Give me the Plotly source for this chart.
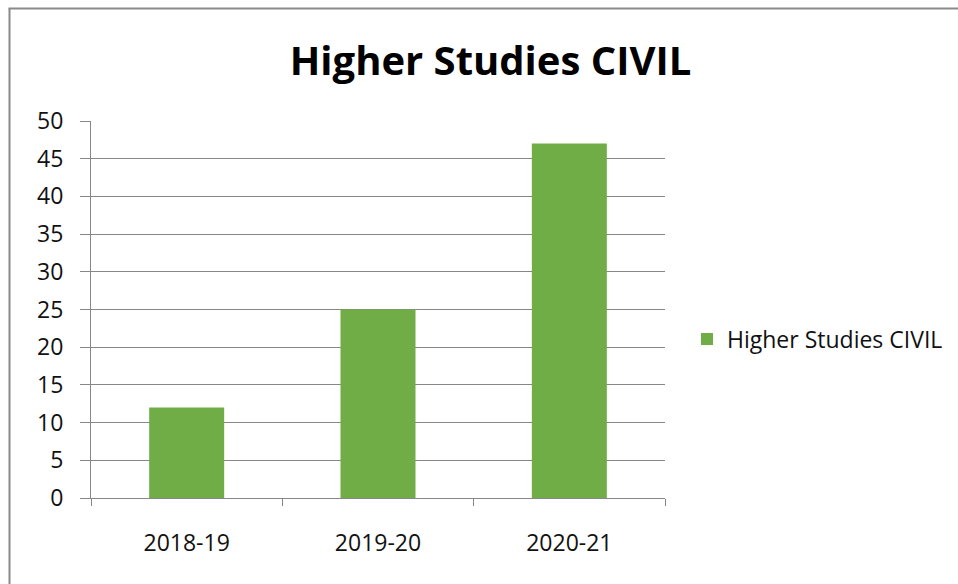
import plotly.graph_objects as go

categories = ["2018-19", "2019-20", "2020-21"]
values = [12, 25, 47]
series_name = "Higher Studies CIVIL"
chart_title = "Higher Studies CIVIL"
y_ticks = [0, 5, 10, 15, 20, 25, 30, 35, 40, 45, 50]

W, H = 958, 584
L, R, T, B = 91, 665, 121, 498

GREEN = "#70AD47"
GRID = "#878787"
FONT = "Open Sans"

fig = go.Figure()
fig.add_trace(go.Bar(
    x=categories, y=values, name=series_name,
    marker=dict(color=GREEN, line=dict(width=0)),
    showlegend=True,
))

pw, ph = R - L, B - T

def px_x(p):
    return (p - L) / pw

def px_y(p):
    return (B - p) / ph

border = dict(color="#8a8a8a", width=2)

fig.update_layout(
    width=W, height=H,
    margin=dict(l=L, r=W - R, t=T, b=H - B, pad=0, autoexpand=False),
    paper_bgcolor="white", plot_bgcolor="white",
    font=dict(family=FONT, size=23, color="#111111"),
    bargap=0.608,
    title=dict(text="<b>" + chart_title + "</b>", x=490.5 / W, xref="container", xanchor="center",
               y=1 - 61 / H, yref="container", yanchor="middle",
               font=dict(family=FONT, size=40, color="#000000")),
    showlegend=True,
    legend=dict(x=px_x(687), xanchor="left", y=px_y(339), yanchor="middle",
                bgcolor="rgba(0,0,0,0)", borderwidth=0,
                font=dict(family=FONT, size=23, color="#111111")),
    xaxis=dict(showgrid=False, showline=True, linecolor=GRID, linewidth=1,
               ticks="outside", tickson="boundaries", ticklen=7, tickcolor=GRID, tickwidth=1,
               ticklabelstandoff=24, zeroline=False, automargin=False),
    yaxis=dict(range=[0, 50], tickvals=y_ticks, showgrid=True, gridcolor=GRID, gridwidth=1,
               showline=True, linecolor=GRID, linewidth=1, ticks="outside", ticklen=10,
               tickcolor=GRID, tickwidth=1, ticklabelstandoff=12, zeroline=False, automargin=False),
    shapes=[
        dict(type="line", xref="paper", yref="paper",
             x0=px_x(9.5), x1=px_x(9.5), y0=px_y(8.5), y1=px_y(H + 20), line=border, layer="below"),
        dict(type="line", xref="paper", yref="paper",
             x0=px_x(8.5), x1=px_x(W + 20), y0=px_y(8.5), y1=px_y(8.5), line=border, layer="below"),
    ],
)

fig.write_html(
    "out.html",
    config={"displayModeBar": False},
    post_script=(
        "document.documentElement.style.overflow='hidden';"
        "document.documentElement.style.margin='0';"
        "document.body.style.margin='0';document.body.style.overflow='hidden';"
    ),
)
